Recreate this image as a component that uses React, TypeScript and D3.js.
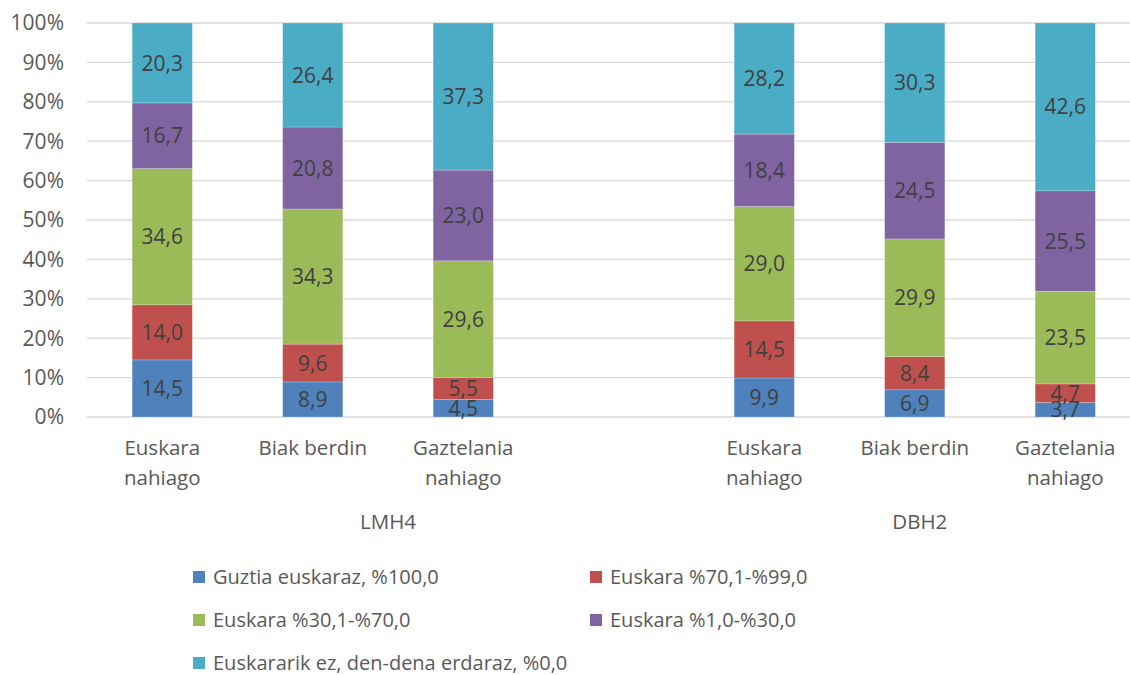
import * as d3 from 'd3'

const seriesNames = [
  'Guztia euskaraz, %100,0',
  'Euskara %70,1-%99,0',
  'Euskara %30,1-%70,0',
  'Euskara %1,0-%30,0',
  'Euskararik ez, den-dena erdaraz, %0,0',
]
const colors = ['#4f81bd', '#c0504d', '#9bbb59', '#8064a2', '#4bacc6']

const groups = ['LMH4', 'DBH2']
const categories = ['Euskara nahiago', 'Biak berdin', 'Gaztelania nahiago']

// one row per bar, values bottom -> top in series order
const lmh4Values = [
  [14.5, 14.0, 34.6, 16.7, 20.3],
  [8.9, 9.6, 34.3, 20.8, 26.4],
  [4.5, 5.5, 29.6, 23.0, 37.3],
]
const dbh2Values = [
  [9.9, 14.5, 29.0, 18.4, 28.2],
  [6.9, 8.4, 29.9, 24.5, 30.3],
  [3.7, 4.7, 23.5, 25.5, 42.6],
]

const yTicks = [0, 10, 20, 30, 40, 50, 60, 70, 80, 90, 100]

const font = "'Open Sans', sans-serif"

const App = () => {
  const width = 1130
  const height = 675
  const left = 87
  const step = 150.5
  const top = 23
  const bottom = 417

  // 7 slots: 3 bars, an empty gap slot, 3 bars
  const slots = ['0', '1', '2', 'gap', '3', '4', '5']
  const x = d3
    .scaleBand()
    .domain(slots)
    .range([left, left + step * slots.length])
    .paddingInner(0.6)
    .paddingOuter(0.3)
  const y = d3.scaleLinear().domain([0, 100]).range([bottom, top])

  const bars = [
    ...lmh4Values.map((v, i) => ({ key: String(i), cat: categories[i], values: v })),
    ...dbh2Values.map((v, i) => ({ key: String(i + 3), cat: categories[i], values: v })),
  ]

  const stacked = bars.map((b) => {
    const total = d3.sum(b.values)
    let acc = 0
    return {
      ...b,
      segs: b.values.map((v, j) => {
        const y0 = (acc / total) * 100
        acc += v
        const y1 = (acc / total) * 100
        return { v, y0, y1, color: colors[j] }
      }),
    }
  })

  const center = (k: string) => (x(k) ?? 0) + x.bandwidth() / 2
  const groupCenters = [
    (center('0') + center('gap')) / 2,
    center('4') + 5,
  ]

  const legendPos = [
    [193, 577],
    [590, 577],
    [193, 620],
    [590, 620],
    [193, 663],
  ]

  return (
    <svg width={width} height={height} style={{ position: 'absolute', left: 0, top: 0 }}>
      <rect width={width} height={height} fill='#fff' />
      {yTicks.map((t) => (
        <g key={t}>
          <line x1={left} x2={left + step * 7} y1={y(t)} y2={y(t)} stroke='#d9d9d9' strokeWidth={1.3} />
          <text x={64} y={y(t)} dy='0.35em' textAnchor='end' fill='#595959' fontSize={21} fontFamily={font}>
            {t}%
          </text>
        </g>
      ))}
      {stacked.map((b) => (
        <g key={b.key}>
          {b.segs.map((s, j) => (
            <rect
              key={j}
              x={x(b.key)}
              y={y(s.y1)}
              width={x.bandwidth()}
              height={y(s.y0) - y(s.y1)}
              fill={s.color}
              stroke='#fff'
              strokeOpacity={0.35}
              strokeWidth={0.6}
            />
          ))}
          {b.segs.map((s, j) => (
            <text
              key={'t' + j}
              x={center(b.key)}
              y={(y(s.y0) + y(s.y1)) / 2}
              dy='0.36em'
              textAnchor='middle'
              fill='#404040'
              fontSize={21}
              fontFamily={font}
            >
              {s.v.toFixed(1).replace('.', ',')}
            </text>
          ))}
          {(() => {
            const words = b.cat.split(' ')
            const lines = words.length > 1 && b.cat !== 'Biak berdin' ? words : [b.cat]
            return lines.map((l, i) => (
              <text
                key={'c' + i}
                x={center(b.key)}
                y={448 + i * 30}
                dy='0.35em'
                textAnchor='middle'
                fill='#595959'
                fontSize={20.5}
                fontFamily={font}
              >
                {l}
              </text>
            ))
          })()}
        </g>
      ))}
      {groups.map((g, i) => (
        <text
          key={g}
          x={groupCenters[i]}
          y={522}
          dy='0.35em'
          textAnchor='middle'
          fill='#595959'
          fontSize={20.5}
          fontFamily={font}
        >
          {g}
        </text>
      ))}
      {seriesNames.map((n, i) => (
        <g key={n} transform={`translate(${legendPos[i][0]},${legendPos[i][1]})`}>
          <rect x={0} y={-6} width={12} height={12} fill={colors[i]} />
          <text x={20} y={0} dy='0.35em' fill='#595959' fontSize={20} fontFamily={font}>
            {n}
          </text>
        </g>
      ))}
    </svg>
  )
}

export default App
